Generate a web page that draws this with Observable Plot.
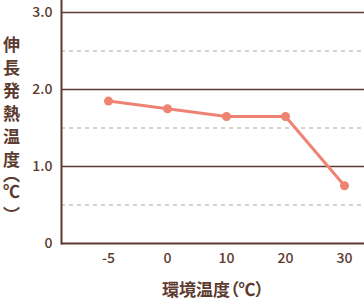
<!DOCTYPE html>
<html>
<head>
<meta charset="utf-8">
<script src="https://cdn.jsdelivr.net/npm/d3@7"></script>
<script src="https://cdn.jsdelivr.net/npm/@observablehq/plot@0.6"></script>
<style>
  body { margin: 0; background: #fff; }
  #wrap { position: relative; width: 364px; height: 300px; }
  #ylabel {
    position: absolute; left: 3px; top: 36px;
    writing-mode: vertical-rl;
    font-family: "Noto Sans CJK JP", sans-serif;
    font-size: 17px; font-weight: 700; color: #5c3a2e;
    letter-spacing: 6px;
    font-feature-settings: "vpal";
    line-height: 1;
  }
  #ylabel .p { letter-spacing: 1px; }
  #wrap svg g[aria-label="x-axis label"] text { font-size: 17px; font-weight: 700; }
</style>
</head>
<body>
<div id="wrap"><div id="ylabel">伸長発熱温度<span class="p">（</span>℃<span class="p">）</span></div></div>
<script>
const temps = ["-5", "0", "10", "20", "30"];
const heat = [1.85, 1.75, 1.65, 1.65, 0.75];
const yTicks = [0, 1, 2, 3];
const yTickLabels = ["0", "1.0", "2.0", "3.0"];
const solidGrid = [1, 2, 3];
const dashedGrid = [0.5, 1.5, 2.5];
const xTitle = "環境温度（℃）";

const data = temps.map((t, i) => ({t, v: heat[i]}));
const brown = "#5c3a2e";

const chart = Plot.plot({
  width: 364,
  height: 300,
  marginLeft: 61,
  marginRight: 0,
  marginTop: 0,
  marginBottom: 57,
  style: {fontFamily: "'Noto Sans CJK JP', sans-serif", color: brown, fontFeatureSettings: "'palt'"},
  x: {type: "point", domain: temps, range: [108, 344], padding: 0},
  y: {domain: [0, 3.156]},
  marks: [
    Plot.ruleY(dashedGrid, {stroke: "#b5a59e", strokeWidth: 1.2, strokeDasharray: "4,4"}),
    Plot.ruleY(solidGrid, {stroke: brown, strokeWidth: 1.5}),
    Plot.ruleY([0], {stroke: brown, strokeWidth: 2}),
    Plot.frame({anchor: "left", stroke: brown, strokeWidth: 2}),
    Plot.axisY({ticks: yTicks, tickFormat: (d) => yTickLabels[yTicks.indexOf(d)], tickSize: 0, tickPadding: 9, fontSize: 14, fontWeight: 500, label: null}),
    Plot.axisX({tickSize: 0, tickPadding: 10, fontSize: 14, fontWeight: 500, label: xTitle, labelAnchor: "center", labelOffset: 52}),
    Plot.line(data, {x: "t", y: "v", stroke: "#ef8373", strokeWidth: 3}),
    Plot.dot(data, {x: "t", y: "v", r: 4.5, fill: "#ef8373"})
  ]
});
document.getElementById("wrap").appendChild(chart);
</script>
</body>
</html>
